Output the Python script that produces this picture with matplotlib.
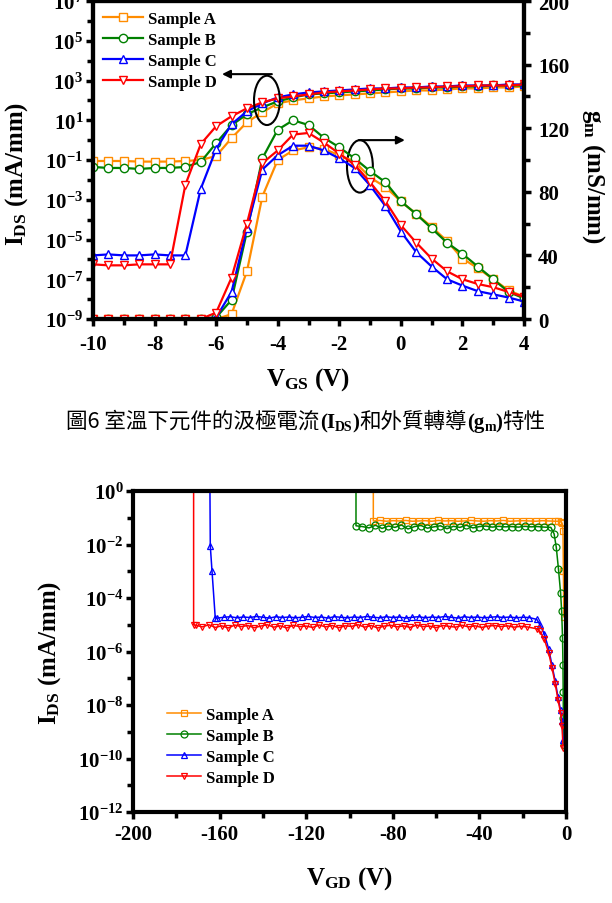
"""IDS / gm transfer curves and off-state breakdown of four samples."""

import numpy as np
import matplotlib
matplotlib.use("Agg")
import matplotlib.pyplot as plt
from matplotlib.ticker import FixedLocator, FuncFormatter, NullFormatter
from matplotlib.patches import Ellipse

plt.rcParams['font.family'] = ['Liberation Serif', 'DejaVu Serif']
plt.rcParams['font.weight'] = 'bold'
plt.rcParams['axes.labelweight'] = 'bold'
plt.rcParams['mathtext.fontset'] = 'custom'
plt.rcParams['mathtext.rm'] = 'Liberation Serif:bold'
plt.rcParams['mathtext.bf'] = 'Liberation Serif:bold'
plt.rcParams['mathtext.it'] = 'Liberation Serif:bold'
plt.rcParams['mathtext.default'] = 'rm'
plt.rcParams['axes.unicode_minus'] = False

labels = ['Sample A', 'Sample B', 'Sample C', 'Sample D']
colors = ['#FF8C00', '#008000', '#0000FF', '#FF0000']
markers = ['s', 'o', '^', 'v']

# ---- room temperature transfer curves, VGS sweep -10..4 V ----
vgs = np.arange(-10, 4.01, 0.5)

# log10(IDS) in mA/mm
ids_a = [-1.05, -1.05, -1.05, -1.08, -1.08, -1.08, -1.05, -1.0, -0.8, 0.1,
         0.9, 1.4, 1.85, 2.0, 2.1, 2.2, 2.25, 2.3, 2.35, 2.4,
         2.45, 2.5, 2.5, 2.55, 2.6, 2.6, 2.65, 2.65, 2.7]
ids_b = [-1.35, -1.4, -1.4, -1.45, -1.4, -1.4, -1.35, -1.1, -0.15, 0.75,
         1.3, 1.65, 1.95, 2.15, 2.3, 2.35, 2.4, 2.45, 2.5, 2.55,
         2.6, 2.6, 2.65, 2.65, 2.7, 2.7, 2.75, 2.75, 2.75]
ids_c = [-5.8, -5.75, -5.8, -5.8, -5.75, -5.8, -5.8, -2.45, -0.45, 0.8,
         1.45, 1.85, 2.15, 2.3, 2.4, 2.45, 2.5, 2.55, 2.6, 2.6,
         2.65, 2.65, 2.7, 2.7, 2.75, 2.75, 2.75, 2.8, 2.8]
ids_d = [-6.25, -6.3, -6.3, -6.25, -6.25, -6.25, -2.25, -0.2, 0.7, 1.2,
         1.6, 1.9, 2.1, 2.2, 2.3, 2.4, 2.45, 2.5, 2.55, 2.6,
         2.6, 2.65, 2.65, 2.7, 2.7, 2.75, 2.75, 2.75, 2.8]

# gm in mS/mm
gm_a = [0, 0, 0, 0, 0, 0, 0, 0, 0, 3,
        30, 77, 100, 106, 108, 107, 103, 99, 89, 83,
        74, 66, 58, 49, 38, 32, 25, 18, 14]
gm_b = [0, 0, 0, 0, 0, 0, 0, 0, 1, 12,
        55, 101, 119, 125, 122, 114, 108, 101, 93, 86,
        74, 66, 57, 48, 41, 33, 25, 17, 13]
gm_c = [0, 0, 0, 0, 0, 0, 0, 0, 1, 17,
        57, 94, 103, 109, 109, 106, 101, 95, 84, 71,
        55, 42, 33, 25, 21, 17.5, 15.5, 13.5, 11]
gm_d = [0, 0, 0, 0, 0, 0, 0, 0, 4, 26,
        60, 98, 106, 116, 117, 111, 104, 97, 86, 74,
        59, 48, 38, 30, 25, 22, 20, 17, 14]

# ---- off-state breakdown, log10(IDS) vs VGD ----
bd_v = [-89, -97, -164.5, -172]          # vertical breakdown jump
bd_top = 0.5                             # line goes out through the top

flat_a = [-1.12, -1.10, -1.13, -1.11, -1.12, -1.10, -1.13, -1.12, -1.11, -1.13,
          -1.10, -1.12, -1.11, -1.13, -1.12, -1.10, -1.12, -1.13, -1.11, -1.12,
          -1.10, -1.13, -1.12, -1.11, -1.12, -1.13, -1.11, -1.12, -1.13]
flat_b = [-1.30, -1.33, -1.38, -1.28, -1.40, -1.31, -1.36, -1.27, -1.42, -1.33,
          -1.29, -1.39, -1.34, -1.30, -1.41, -1.32, -1.36, -1.28, -1.38, -1.33,
          -1.31, -1.35, -1.32, -1.34, -1.33, -1.35, -1.32, -1.34, -1.33, -1.35,
          -1.36]
flat_c = [-4.75, -4.72, -4.70, -4.74, -4.71, -4.73, -4.69, -4.72, -4.75, -4.70,
          -4.73, -4.71, -4.74, -4.72, -4.69, -4.73, -4.71, -4.75, -4.70, -4.72,
          -4.74, -4.71, -4.73, -4.69, -4.72, -4.74, -4.70, -4.73, -4.71, -4.75,
          -4.72, -4.70, -4.74, -4.71, -4.73, -4.69, -4.72, -4.75, -4.70, -4.73,
          -4.71, -4.74, -4.72, -4.70, -4.73, -4.71, -4.74, -4.72, -4.73]
flat_d = [-5.02, -5.08, -5.00, -5.10, -5.04, -5.12, -5.01, -5.07, -5.03, -5.11,
          -5.05, -5.00, -5.09, -5.04, -5.12, -5.02, -5.07, -5.05, -5.10, -5.01,
          -5.08, -5.03, -5.11, -5.04, -5.06, -5.00, -5.09, -5.03, -5.12, -5.05,
          -5.02, -5.08, -5.04, -5.10, -5.01, -5.07, -5.05, -5.11, -5.03, -5.06,
          -5.09, -5.02, -5.08, -5.04, -5.10, -5.05, -5.03, -5.07, -5.04, -5.09,
          -5.06, -5.08]
flat_range = [(-89, -5), (-97, -7), (-161, -17), (-171, -18)]

tail_v_a = [-3.5, -2.5, -1.8, -1.4, -1.2, -1.0]
tail_a = [-1.13, -1.15, -1.2, -1.5, -3.0, -4.7]
tail_v_b = [-5.5, -4.5, -3.5, -2.5, -2.0, -1.6, -1.4, -1.3, -1.2, -1.1]
tail_b = [-1.6, -2.1, -2.9, -3.8, -4.5, -5.5, -6.5, -7.5, -8.5, -9.5]
tail_v_cd = [-13.5, -12, -10, -8, -6.5, -5, -3.7, -2.5, -1.8, -1.4]
tail_c = [-4.8, -5.0, -5.35, -5.9, -6.5, -7.1, -7.7, -8.2, -8.6, -9.3]
tail_d = [-5.15, -5.25, -5.55, -6.05, -6.6, -7.2, -7.8, -8.3, -8.8, -9.6]
# sample C has two points on its breakdown slope
slope_v_c = [-164.3, -163.5]
slope_c = [-2.05, -3.0]

W, H = 612, 904
fig = plt.figure(figsize=(W / 100, H / 100), dpi=100)


def style_axis(a, lw=3):
    for sp in a.spines.values():
        sp.set_linewidth(lw)
    a.tick_params(which='major', direction='out', length=5, width=2.5,
                  labelsize=15, pad=2)
    a.tick_params(which='minor', direction='out', length=4, width=2.5)
    a.tick_params(axis='x', pad=6)


def pow_fmt(v, pos):
    return r'$10^{%d}$' % int(round(np.log10(v)))


# ================= top panel =================
ax = fig.add_axes([93 / W, (H - 320) / H, 431 / W, 318 / H])
ax2 = ax.twinx()

ids_all = [ids_a, ids_b, ids_c, ids_d]
gm_all = [gm_a, gm_b, gm_c, gm_d]
for i in range(4):
    ax.semilogy(vgs, 10 ** np.array(ids_all[i]), color=colors[i],
                marker=markers[i], ms=6, mfc='white', mew=1, lw=1.6,
                label=labels[i])
    ax2.plot(vgs, gm_all[i], color=colors[i], marker=markers[i], ms=6,
             mfc='white', mew=1, lw=1.6)

ax.set_xlim(-10, 4)
ax.set_ylim(1e-9, 1e7)
ax2.set_ylim(0, 200)
ax.xaxis.set_major_locator(FixedLocator(np.arange(-10, 4.1, 2)))
ax.xaxis.set_minor_locator(FixedLocator(np.arange(-9, 4, 2)))
ax.yaxis.set_major_locator(FixedLocator([10.0 ** e for e in range(-9, 8, 2)]))
ax.yaxis.set_minor_locator(FixedLocator([10.0 ** e for e in range(-8, 7, 2)]))
ax.yaxis.set_major_formatter(FuncFormatter(pow_fmt))
ax.yaxis.set_minor_formatter(NullFormatter())
ax2.yaxis.set_major_locator(FixedLocator(np.arange(0, 201, 40)))
ax2.yaxis.set_minor_locator(FixedLocator(np.arange(20, 200, 40)))
style_axis(ax)
style_axis(ax2)
ax2.tick_params(axis='y', pad=5)

ax.set_xlabel(r'$\mathrm{V_{GS}}$ (V)', fontsize=18, labelpad=8)
ax.set_ylabel(r'$\mathrm{I_{DS}}$ (mA/mm)', fontsize=18)
ax.yaxis.set_label_coords(-0.146, 0.46)
ax2.set_ylabel(r'$\mathrm{g_m}$ (mS/mm)', fontsize=18, rotation=270)
ax2.yaxis.set_label_coords(1.192, 0.45)

ax.legend(loc='upper left', bbox_to_anchor=(0.0, 1.0), frameon=False,
          prop={'size': 12, 'weight': 'bold'}, handlelength=2.4,
          numpoints=1, labelspacing=0.3, handletextpad=0.3,
          borderaxespad=0.2)

# ellipses + arrows: left curves -> left axis, right curves -> right axis
ax2.add_patch(Ellipse((-4.35, 137.5), 0.84, 31, fill=False, lw=1.5,
                      color='black'))
ax2.annotate('', xy=(-5.81, 154), xytext=(-4.19, 154),
             arrowprops=dict(arrowstyle='-|>', lw=1.5, color='black',
                             mutation_scale=12, shrinkA=0, shrinkB=0))
ax2.add_patch(Ellipse((-1.33, 96), 0.84, 33, fill=False, lw=1.5,
                      color='black'))
ax2.annotate('', xy=(0.13, 112.5), xytext=(-1.36, 112.5),
             arrowprops=dict(arrowstyle='-|>', lw=1.5, color='black',
                             mutation_scale=12, shrinkA=0, shrinkB=0))

# ================= caption =================
renderer = fig.canvas.get_renderer()
cjk = {'family': ['Noto Sans CJK TC', 'DejaVu Sans'], 'size': 15.5,
       'weight': 'medium'}
ser = {'family': ['Liberation Serif'], 'size': 15, 'weight': 'bold'}
sub = {'family': ['Liberation Serif'], 'size': 10, 'weight': 'bold'}
chunks = [('圖6 室溫下元件的汲極電流', cjk, 0), ('(I', ser, 0), ('DS', sub, -3),
          (')', ser, 0), ('和外質轉導', cjk, 0), ('(g', ser, 0), ('m', sub, -3),
          (')', ser, 0), ('特性', cjk, 0)]
placed = []
xpos = 0.0
for s, props, dy in chunks:
    t = fig.text(0, 0, s, va='baseline', ha='left', **props)
    placed.append((t, xpos, dy))
    xpos += t.get_window_extent(renderer).width
x0 = W / 2 - xpos / 2
for t, xo, dy in placed:
    t.set_position(((x0 + xo) / W, (H - 428 + dy) / H))

# ================= bottom panel =================
bx = fig.add_axes([133 / W, (H - 813) / H, 433 / W, 321 / H])

flats = [flat_a, flat_b, flat_c, flat_d]
for i in range(4):
    lo, hi = flat_range[i]
    fv = list(np.linspace(lo, hi, len(flats[i])))
    if i == 0:
        v = [bd_v[0]] + fv + tail_v_a
        y = [bd_top] + flat_a + tail_a
    elif i == 1:
        v = [bd_v[1]] + fv + tail_v_b
        y = [bd_top] + flat_b + tail_b
    elif i == 2:
        v = [bd_v[2]] + slope_v_c + [-162] + fv + tail_v_cd
        y = [bd_top] + slope_c + [-4.75] + flat_c + tail_c
    else:
        v = [bd_v[3], bd_v[3]] + fv + tail_v_cd
        y = [bd_top, -5.0] + flat_d + tail_d
    bx.semilogy(v, 10 ** np.array(y), color=colors[i], marker=markers[i],
                ms=5, mfc='none', mew=0.9, lw=1.1, label=labels[i])

bx.set_xlim(-200, 0)
bx.set_ylim(1e-12, 1e0)
bx.xaxis.set_major_locator(FixedLocator(np.arange(-200, 1, 40)))
bx.xaxis.set_minor_locator(FixedLocator(np.arange(-180, 0, 40)))
bx.yaxis.set_major_locator(FixedLocator([10.0 ** e for e in range(-12, 1, 2)]))
bx.yaxis.set_minor_locator(FixedLocator([10.0 ** e for e in range(-11, 0, 2)]))
bx.yaxis.set_major_formatter(FuncFormatter(pow_fmt))
bx.yaxis.set_minor_formatter(NullFormatter())
style_axis(bx)
bx.tick_params(axis='x', pad=4)
bx.set_xlabel(r'$\mathrm{V_{GD}}$ (V)', fontsize=18, labelpad=14)
bx.set_ylabel(r'$\mathrm{I_{DS}}$ (mA/mm)', fontsize=18)
bx.yaxis.set_label_coords(-0.162, 0.5)
bx.legend(loc='lower left', bbox_to_anchor=(0.045, 0.035), frameon=False,
          prop={'size': 12, 'weight': 'bold'}, handlelength=2.0,
          numpoints=1, labelspacing=0.3, handletextpad=0.3)

fig.savefig('out.png', dpi=100)
